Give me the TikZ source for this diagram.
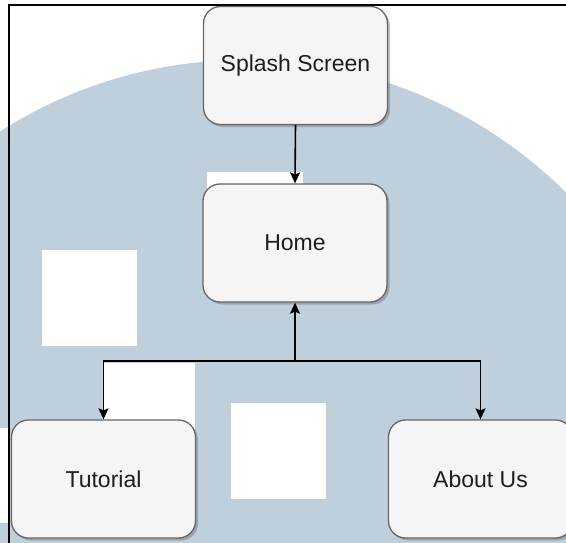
\documentclass[tikz,border=0pt]{standalone}
\usepackage{fontspec}
\setmainfont{Liberation Sans}
\usetikzlibrary{arrows.meta,shadows}
\definecolor{wmblue}{RGB}{191,207,220}
\definecolor{boxfill}{RGB}{245,245,245}
\definecolor{boxline}{RGB}{102,102,102}
\definecolor{txt}{RGB}{30,30,30}
\tikzset{
  screen/.style={draw=boxline, line width=1.3pt, fill=boxfill, rounded corners=17pt,
    minimum width=184pt, minimum height=118pt, inner sep=0pt, text=txt,
    font=\fontsize{23}{27}\selectfont,
    drop shadow={shadow xshift=2.5pt, shadow yshift=-2.5pt, opacity=0.45, fill=black!55}},
  link/.style={draw=black, line width=1.6pt, -{Stealth[length=11pt,width=10pt,inset=2pt]}},
  patch/.style={fill=white, draw=none}
}
\begin{document}
\begin{tikzpicture}[x=1pt,y=-1pt]
  \useasboundingbox (0,0) rectangle (566,542);
  \clip (0,0) rectangle (566,542);
  % backdrop
  \fill[white] (0,0) rectangle (566,542);
  \fill[wmblue] (245,515) circle[radius=455];
  \fill[patch] (42,250) rectangle (137,346);
  \fill[patch] (207,172) rectangle (303,268);
  \fill[patch] (103,363) rectangle (195,459);
  \fill[patch] (231,403) rectangle (326,499);
  \fill[patch] (-85,428) rectangle (10,523);
  % frame
  \draw[line width=2pt] (9,545) -- (9,5) -- (570,5);
  % screens
  \node[screen] (splash)   at (295.5,65.5) {Splash Screen};
  \node[screen] (home)     at (295,243)    {Home};
  \node[screen] (tutorial) at (103.5,479)  {Tutorial};
  \node[screen] (about)    at (480.5,479)  {About Us};
  % navigation
  \coordinate (hub) at (295,361);
  \draw[link] (splash.south) -- (home.north);
  \draw[link] (hub) -- (home.south);
  \draw[link] (hub) -| (tutorial.north);
  \draw[link] (hub) -| (about.north);
\end{tikzpicture}
\end{document}
